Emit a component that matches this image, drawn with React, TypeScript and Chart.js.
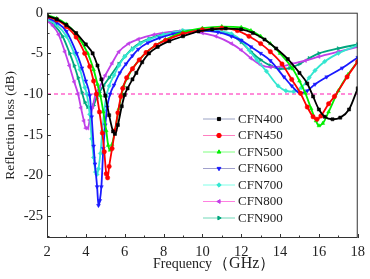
import React, { useEffect, useRef } from 'react';
import { Chart, registerables } from 'chart.js';
import { drawPoint } from 'chart.js/helpers';
Chart.register(...registerables);

type P = [number, number];

const cfn400: P[] = [[2,-0.4],[2.5,-0.8],[3,-1.5],[3.5,-2.5],[4,-3.9],[4.35,-5.0],[4.6,-6.5],[4.8,-8.2],[5.0,-10.2],[5.2,-12.6],[5.4,-14.6],[5.5,-14.9],[5.65,-13.8],[5.85,-11.5],[6.0,-10.1],[6.15,-9.3],[6.4,-8.2],[6.6,-7.4],[6.9,-6.1],[7.25,-5.0],[7.7,-4.2],[8.3,-3.5],[9,-2.9],[9.8,-2.3],[10.5,-2.05],[11.2,-1.95],[12,-2.05],[12.6,-2.5],[13.2,-3.3],[13.8,-4.4],[14.4,-5.7],[15,-7.4],[15.4,-8.7],[15.7,-10.3],[16,-11.9],[16.3,-12.8],[16.7,-13.1],[17.1,-12.9],[17.55,-11.9],[18,-9.3]];
const cfn450: P[] = [[2,-0.5],[2.5,-0.9],[3,-1.7],[3.5,-3.0],[3.94,-5.0],[4.2,-6.6],[4.4,-8.4],[4.55,-10.0],[4.7,-12.2],[4.85,-14.8],[4.95,-17.1],[5.05,-19.8],[5.12,-20.3],[5.2,-18.9],[5.35,-16.7],[5.5,-14.5],[5.65,-12.3],[5.8,-10.3],[5.9,-9.3],[6.1,-8.0],[6.4,-6.9],[6.75,-5.8],[7.1,-4.9],[7.6,-4.0],[8.1,-3.4],[9,-2.6],[10,-2.1],[11,-1.9],[11.8,-2.2],[12.4,-2.9],[13,-3.8],[13.5,-4.8],[14.1,-6.3],[14.6,-8.2],[15.05,-9.9],[15.4,-11.6],[15.7,-12.8],[15.9,-13.1],[16.1,-12.7],[16.5,-11.2],[16.8,-10.3],[17.45,-7.9],[18,-6.0]];
const cfn500: P[] = [[2,-0.3],[2.5,-0.7],[3,-1.4],[3.5,-2.6],[4.1,-5.0],[4.4,-7.0],[4.6,-8.8],[4.75,-10.2],[4.9,-12.2],[5.05,-14.5],[5.15,-16.3],[5.25,-16.9],[5.35,-16.2],[5.5,-14.5],[5.7,-11.8],[5.85,-10.0],[5.95,-9.0],[6.15,-8.0],[6.4,-6.9],[6.75,-5.8],[7.1,-4.9],[7.6,-4.0],[8.1,-3.3],[9,-2.4],[10,-1.9],[11,-1.7],[12,-1.8],[12.5,-2.2],[13,-2.9],[13.5,-3.8],[14,-5.0],[14.65,-6.9],[15,-8.4],[15.3,-9.9],[15.6,-11.8],[15.85,-13.3],[16,-13.9],[16.2,-13.6],[16.5,-12.2],[17,-9.6],[17.5,-7.6],[18,-6.0]];
const cfn600: P[] = [[2,-0.6],[2.5,-1.2],[3,-2.3],[3.53,-5.0],[3.8,-6.8],[4.0,-8.4],[4.2,-10.2],[4.3,-12.8],[4.4,-16.4],[4.47,-18.6],[4.58,-21.4],[4.65,-23.7],[4.72,-23.1],[4.8,-21.4],[4.9,-16.7],[5.0,-13.8],[5.1,-11.6],[5.25,-10.0],[5.45,-8.9],[5.75,-7.4],[6.07,-6.3],[6.4,-5.3],[6.7,-4.5],[7.2,-3.7],[7.8,-3.1],[8.5,-2.6],[9.3,-2.3],[10,-2.2],[10.8,-2.4],[11.5,-2.9],[12,-3.4],[12.5,-4.2],[13,-5.0],[13.5,-5.9],[14.2,-7.9],[14.6,-9.0],[15.05,-9.9],[15.4,-9.6],[15.8,-8.8],[16.4,-7.9],[17.2,-6.8],[18,-5.5]];
const cfn700: P[] = [[2,-0.8],[2.5,-1.5],[3,-2.9],[3.4,-5.0],[3.7,-7.0],[3.95,-9.2],[4.05,-10.0],[4.2,-12.5],[4.3,-15.5],[4.4,-17.8],[4.5,-19.6],[4.57,-19.9],[4.65,-19.2],[4.75,-17.3],[4.85,-14.5],[4.95,-12.0],[5.05,-10.3],[5.2,-9.0],[5.45,-7.7],[5.7,-6.5],[6.0,-5.4],[6.4,-4.5],[6.8,-3.8],[7.25,-3.3],[8,-2.7],[9,-2.2],[10,-2.1],[11,-2.3],[11.5,-2.6],[12,-3.4],[12.4,-4.6],[12.8,-5.8],[13.3,-7.2],[13.9,-9.0],[14.3,-9.6],[14.7,-9.7],[15.1,-9.2],[15.5,-8.0],[15.8,-7.1],[16.3,-6.0],[17,-5.0],[18,-4.0]];
const cfn800: P[] = [[2,-1.0],[2.3,-1.6],[2.6,-2.7],[2.92,-4.8],[3.15,-6.5],[3.4,-8.5],[3.6,-10.0],[3.75,-11.7],[3.9,-13.3],[4.0,-14.2],[4.1,-14.2],[4.2,-13.2],[4.35,-11.6],[4.5,-10.0],[4.7,-9.2],[5.0,-7.7],[5.35,-6.2],[5.7,-4.8],[6.2,-3.8],[6.7,-3.25],[7.5,-2.7],[8.8,-2.3],[9.5,-2.3],[10,-2.5],[10.7,-2.9],[11.5,-3.8],[12,-4.6],[12.5,-5.6],[13,-6.4],[13.5,-6.7],[14.1,-6.6],[14.6,-6.3],[15.3,-5.9],[16,-5.4],[17,-4.8],[18,-4.2]];
const cfn900: P[] = [[2,-0.9],[2.4,-1.6],[2.8,-2.9],[3.17,-5.0],[3.4,-6.5],[3.6,-8.0],[3.8,-9.8],[3.95,-11.0],[4.1,-11.6],[4.25,-11.7],[4.4,-11.4],[4.55,-10.5],[4.7,-9.8],[4.9,-9.0],[5.2,-8.0],[5.7,-6.3],[6.0,-5.4],[6.4,-4.4],[6.8,-3.7],[7.25,-3.2],[8,-2.6],[9,-2.2],[10,-2.2],[11,-2.4],[11.5,-2.8],[12,-3.6],[12.5,-4.8],[13,-5.8],[13.5,-6.5],[14,-6.9],[14.5,-6.8],[15,-6.3],[15.5,-5.6],[16,-5.0],[17,-4.4],[18,-3.9]];

const seriesLabels = ['CFN400', 'CFN450', 'CFN500', 'CFN600', 'CFN700', 'CFN800', 'CFN900'];
const seriesData = [cfn400, cfn450, cfn500, cfn600, cfn700, cfn800, cfn900];
const markerColors = ['#000000', '#ff0000', '#00ee00', '#1a1aff', '#33e6d0', '#c040e8', '#00a67e'];
const lineColors = ['#9aa2c4', '#ff7fc0', '#80ff80', '#a0a0cc', '#80ffe8', '#ff80e0', '#70d8b8'];
const pointStyles = ['rect', 'circle', 'triangle', 'triangle', 'rectRot', 'triangle', 'triangle'];
const pointRotations = [0, 0, 0, 180, 0, -90, 90];

const xTickValues = [2, 4, 6, 8, 10, 12, 14, 16, 18];
const yTickValues = [0, -5, -10, -15, -20, -25];
const xMin = 2, xMax = 18, yMin = -27.7, yMax = 0;
const refLevel = -10;
const xTitleMain = 'Frequency';
const xTitleUnit = '（GHz）';
const yTitle = 'Reflection loss (dB)';

const SERIF = "'Liberation Serif', 'Times New Roman', serif";

const decorPlugin = {
  id: 'decor',
  beforeDatasetsDraw(chart: any) {
    const { ctx, chartArea: a, scales } = chart;
    const y = scales.y.getPixelForValue(refLevel);
    ctx.save();
    ctx.strokeStyle = '#ff66cc';
    ctx.lineWidth = 1.5;
    ctx.setLineDash([4, 3]);
    ctx.beginPath();
    ctx.moveTo(a.left, y);
    ctx.lineTo(a.right, y);
    ctx.stroke();
    ctx.restore();
  },
  afterDraw(chart: any) {
    const { ctx, chartArea: a, scales } = chart;
    ctx.save();
    ctx.strokeStyle = '#333';
    ctx.lineWidth = 1;
    ctx.strokeRect(a.left + 0.5, a.top + 0.5, a.right - a.left - 1, a.bottom - a.top - 1);
    ctx.beginPath();
    for (let v = xMin; v <= xMax; v += 1) {
      const px = Math.round(scales.x.getPixelForValue(v)) + 0.5;
      const len = v % 2 === 0 ? 4 : 2.5;
      ctx.moveTo(px, a.bottom);
      ctx.lineTo(px, a.bottom - len);
    }
    for (let v = 0; v >= yMin; v -= 2.5) {
      const py = Math.round(scales.y.getPixelForValue(v)) + 0.5;
      const len = v % 5 === 0 ? 4 : 2.5;
      ctx.moveTo(a.left, py);
      ctx.lineTo(a.left + len, py);
    }
    ctx.stroke();

    // x axis title
    ctx.fillStyle = '#222';
    ctx.textBaseline = 'middle';
    ctx.textAlign = 'left';
    ctx.font = `14px ${SERIF}`;
    const tx = 153, ty = 264;
    ctx.fillText(xTitleMain, tx, ty);
    const w = ctx.measureText(xTitleMain).width;
    ctx.font = `16px ${SERIF}`;
    ctx.fillText(xTitleUnit, tx + w + 1, ty);

    // legend
    const x0 = 203, x1 = 235, top = 119, step = 16.5;
    ctx.font = `13px ${SERIF}`;
    seriesLabels.forEach((label, i) => {
      const yy = top + i * step;
      ctx.strokeStyle = lineColors[i];
      ctx.lineWidth = 1;
      ctx.beginPath();
      ctx.moveTo(x0, yy);
      ctx.lineTo(x1, yy);
      ctx.stroke();
      ctx.fillStyle = markerColors[i];
      ctx.strokeStyle = markerColors[i];
      drawPoint(ctx, { pointStyle: pointStyles[i], radius: 2.2, rotation: pointRotations[i], borderWidth: 1 } as any, (x0 + x1) / 2, yy);
      ctx.fillStyle = '#222';
      ctx.fillText(label, 238, yy + 0.5);
    });
    ctx.restore();
  },
};

export default function App() {
  const ref = useRef<HTMLCanvasElement>(null);
  useEffect(() => {
    if (!ref.current) return;
    const chart = new Chart(ref.current, {
      type: 'line',
      data: {
        datasets: seriesData.map((d, i) => ({
          label: seriesLabels[i],
          data: d.map(([x, y]) => ({ x, y })),
          borderColor: markerColors[i],
          backgroundColor: markerColors[i],
          borderWidth: 1.8,
          pointStyle: pointStyles[i] as any,
          pointRotation: pointRotations[i],
          pointRadius: 2.2,
          pointBorderWidth: 0.5,
          pointBackgroundColor: markerColors[i],
          pointBorderColor: markerColors[i],
          cubicInterpolationMode: 'monotone' as const,
          fill: false,
        })),
      },
      options: {
        animation: false,
        responsive: false,
        devicePixelRatio: 1,
        layout: { padding: { left: 0, right: 9, top: 8, bottom: 0 } },
        plugins: { legend: { display: false }, tooltip: { enabled: false } },
        scales: {
          x: {
            type: 'linear',
            min: xMin,
            max: xMax,
            afterBuildTicks: (s: any) => { s.ticks = xTickValues.map((v) => ({ value: v })); },
            afterFit: (s: any) => { s.height = 41; },
            grid: { display: false, drawTicks: false },
            border: { display: false },
            ticks: { color: '#222', font: { family: SERIF, size: 14.5 }, padding: 5, maxRotation: 0 },
            title: { display: false },
          },
          y: {
            type: 'linear',
            min: yMin,
            max: yMax,
            afterBuildTicks: (s: any) => { s.ticks = yTickValues.map((v) => ({ value: v })); },
            afterFit: (s: any) => { s.width = 47; },
            grid: { display: false, drawTicks: false },
            border: { display: false },
            ticks: { color: '#222', font: { family: SERIF, size: 14.5 }, padding: 4 },
            title: {
              display: true,
              text: yTitle,
              color: '#222',
              font: { family: SERIF, size: 13.5 },
              padding: { top: 2, bottom: 0 },
            },
          },
        },
      },
      plugins: [decorPlugin],
    });
    return () => chart.destroy();
  }, []);
  return (
    <div style={{ position: 'fixed', left: 0, top: 0, width: 370, height: 279, background: '#fff' }}>
      <canvas ref={ref} width={370} height={279} style={{ display: 'block', width: 370, height: 279 }} />
    </div>
  );
}
